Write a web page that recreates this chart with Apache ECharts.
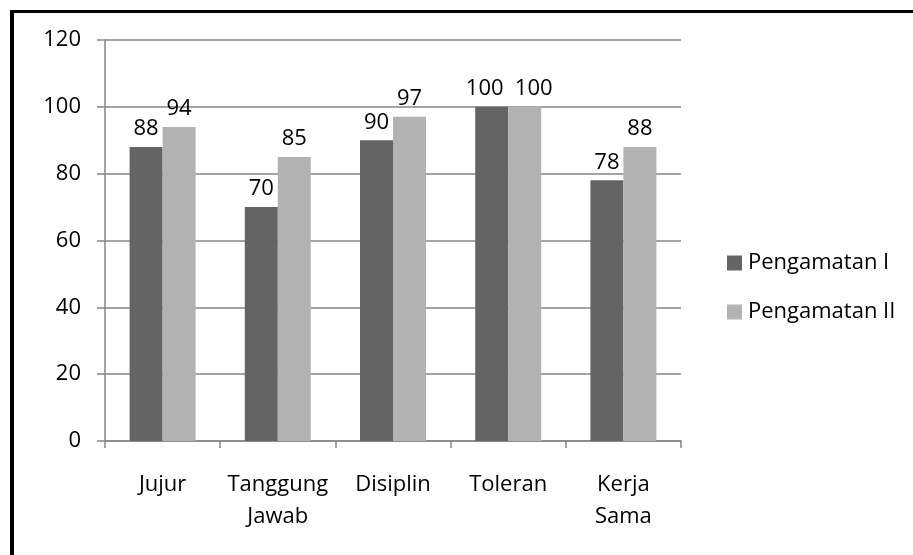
<!DOCTYPE html>
<html>
<head>
<meta charset="utf-8">
<script src="https://cdn.jsdelivr.net/npm/echarts@6/dist/echarts.min.js"></script>
<style>
  html, body { margin: 0; padding: 0; background: #fff; }
  #chart { width: 913px; height: 555px; }
</style>
</head>
<body>
<div id="chart"></div>
<script>
  // data
  const categories = ['Jujur', 'Tanggung\nJawab', 'Disiplin', 'Toleran', 'Kerja\nSama'];
  const pengamatan1 = [88, 70, 90, 100, 78];
  const pengamatan2 = [94, 85, 97, 100, 88];
  const yTicks = [0, 20, 40, 60, 80, 100, 120];

  const font = '"Open Sans", sans-serif';
  const axisGray = '#868686';

  // Toleran labels are nudged apart so the two "100" don't collide
  function withLabels(values, dx) {
    return values.map((v, i) => i === 3 ? { value: v, label: { offset: [dx, 0] } } : v);
  }

  const barLabel = { show: true, position: 'top', color: '#000', fontSize: 22, lineHeight: 22, distance: 7 };

  const chart = echarts.init(document.getElementById('chart'));
  chart.setOption({
    animation: false,
    textStyle: { fontFamily: font },
    grid: { left: 105, right: 232, top: 40, bottom: 114 },
    graphic: [
      { type: 'line', shape: { x1: 10, y1: 11.5, x2: 913, y2: 11.5 }, style: { stroke: '#000', lineWidth: 3 } },
      { type: 'line', shape: { x1: 12, y1: 10, x2: 12, y2: 555 }, style: { stroke: '#000', lineWidth: 4 } }
    ],
    legend: {
      orient: 'vertical',
      left: 722,
      top: 247,
      itemWidth: 15,
      itemHeight: 15,
      itemGap: 27,
      icon: 'rect',
      textStyle: { fontSize: 22, color: '#000', fontFamily: font, padding: [0, 0, 0, 1] }
    },
    xAxis: {
      type: 'category',
      data: categories,
      axisLine: { lineStyle: { color: axisGray, width: 1.5 } },
      axisTick: { show: true, length: 7, lineStyle: { color: axisGray, width: 1.5 } },
      axisLabel: { color: '#000', fontSize: 22, margin: 28, lineHeight: 32, interval: 0 }
    },
    yAxis: {
      type: 'value',
      min: yTicks[0],
      max: yTicks[yTicks.length - 1],
      interval: 20,
      axisLine: { show: true, lineStyle: { color: axisGray, width: 1.5 } },
      axisTick: { show: true, length: 8, lineStyle: { color: axisGray, width: 1.5 } },
      splitLine: { lineStyle: { color: axisGray, width: 1.5 } },
      axisLabel: { color: '#000', fontSize: 22, margin: 24 }
    },
    series: [
      {
        name: 'Pengamatan I',
        type: 'bar',
        data: withLabels(pengamatan1, -7),
        barWidth: 33,
        barGap: '0%',
        itemStyle: { color: '#646464' },
        label: barLabel
      },
      {
        name: 'Pengamatan II',
        type: 'bar',
        data: withLabels(pengamatan2, 9),
        barWidth: 33,
        itemStyle: { color: '#b2b2b2' },
        label: barLabel
      }
    ]
  });
</script>
</body>
</html>
